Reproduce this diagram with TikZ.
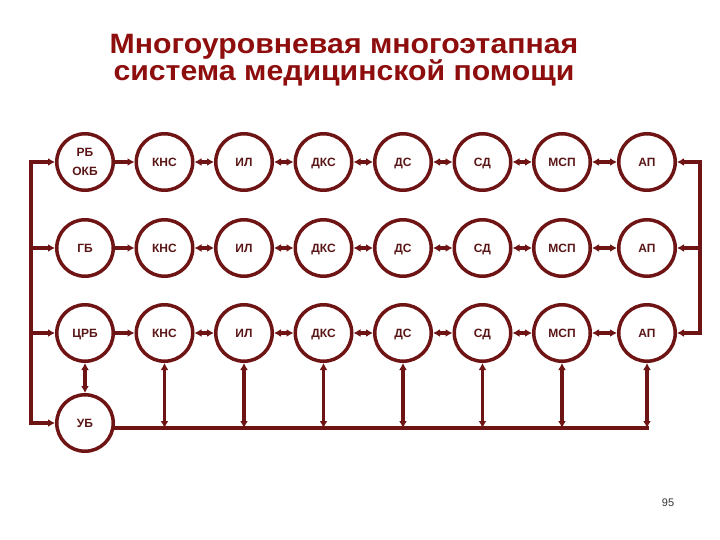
\documentclass[tikz,border=0pt]{standalone}
\usepackage{fontspec}
\setmainfont{Liberation Sans}
\usepackage{tikz}
\usetikzlibrary{arrows.meta, positioning}
\definecolor{maroon}{HTML}{6E1414}
\definecolor{stagetext}{HTML}{5A1616}
\definecolor{titlered}{HTML}{8E0E0E}
\tikzset{
    stage/.style={circle, draw=maroon, line width=3.5pt, minimum size=56.5pt, inner sep=0pt,
        text=stagetext, align=center, font=\bfseries\fontsize{12}{19}\selectfont,
        text height=8.6pt, text depth=0pt},
    twoline/.style={stage, text height={}, text depth={}},
    link/.style={draw=maroon, line width=3.5pt, -{Latex[length=7pt, width=8pt]}},
    twoway/.style={draw=maroon, line width=3.5pt, {Latex[length=7pt, width=8pt]}-{Latex[length=7pt, width=8pt]}},
    wire/.style={draw=maroon, line width=3.5pt, line cap=rect},
}
\begin{document}
\begin{tikzpicture}[x=1pt, y=-1pt]
                \useasboundingbox (0,0) rectangle (720,540);
                \node[text=titlered, align=center, xscale=1.08, transform shape,
                    font=\bfseries\fontsize{28}{23}\selectfont](title) at (344,60)
                    {Многоуровневая многоэтапная\\система медицинской помощи};
                \coordinate(lbus) at (31,0);
                \coordinate(rbus) at (700,0);
                \coordinate(bus) at (0,428);
                \foreach \r/\y/\lpu/\look in {1/162/{РБ\\ОКБ}/twoline, 2/248/ГБ/stage, 3/333/ЦРБ/stage} {
                    \node[\look](lpu\r) at (85,\y) {\lpu};
                    \node[stage, right=19.5pt of lpu\r](kns\r){КНС};
                    \node[stage, right=19.5pt of kns\r](il\r){ИЛ};
                    \node[stage, right=19.5pt of il\r](dks\r){ДКС};
                    \node[stage, right=19.5pt of dks\r](ds\r){ДС};
                    \node[stage, right=19.5pt of ds\r](sd\r){СД};
                    \node[stage, right=19.5pt of sd\r](msp\r){МСП};
                    \node[stage, right=25pt of msp\r](ap\r){АП};
                    \draw[link] (lpu\r) -- (kns\r);
                    \draw[twoway] (kns\r) -- (il\r);
                    \draw[twoway] (il\r) -- (dks\r);
                    \draw[twoway] (dks\r) -- (ds\r);
                    \draw[twoway] (ds\r) -- (sd\r);
                    \draw[twoway] (sd\r) -- (msp\r);
                    \draw[twoway] (msp\r) -- (ap\r);
                }
                \node[stage, below=30pt of lpu3](ub){УБ};
                \draw[twoway] (lpu3) -- (ub);
                \draw[wire] (ub.east |- bus) -- (ap3 |- bus);
                \foreach \n in {kns, il, dks, ds, sd, msp, ap}
                    \draw[twoway] (\n3.south) -- (\n3.south |- bus);
                \draw[wire] (lbus |- ub) -- (lbus |- lpu1);
                \draw[link] (lbus |- lpu1) -- (lpu1);
                \draw[link] (lbus |- lpu2) -- (lpu2);
                \draw[link] (lbus |- lpu3) -- (lpu3);
                \draw[link] (lbus |- ub) -- (ub);
                \draw[wire] (rbus |- ap3) -- (rbus |- ap1);
                \draw[link] (rbus |- ap1) -- (ap1);
                \draw[link] (rbus |- ap2) -- (ap2);
                \draw[link] (rbus |- ap3) -- (ap3);
                \node[text=black!80, font=\fontsize{11}{13}\selectfont](page) at (668,503){95};
            \end{tikzpicture}
\end{document}
